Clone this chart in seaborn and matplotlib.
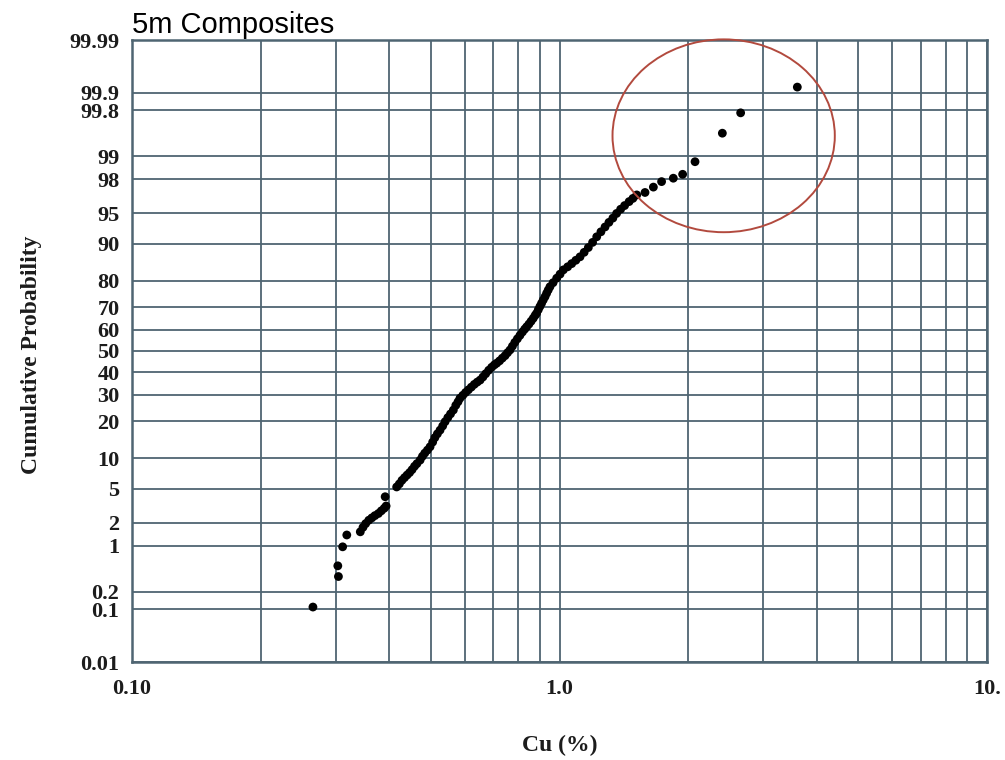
import numpy as np
import matplotlib
matplotlib.use("Agg")
import matplotlib.pyplot as plt
from matplotlib.patches import Ellipse
from matplotlib.ticker import FixedLocator, FixedFormatter, NullFormatter
import seaborn as sns
from statistics import NormalDist

# ---------------- data ----------------
cu_pct = [
    0.265, 0.304, 0.303, 0.311, 0.318,
    0.342, 0.347, 0.352, 0.358, 0.364, 0.370, 0.377, 0.383, 0.389, 0.393, 0.391,
    0.416, 0.422, 0.428, 0.434, 0.440, 0.446, 0.452, 0.458, 0.464, 0.472,
    0.478, 0.484, 0.491, 0.498, 0.505, 0.511, 0.518, 0.5255, 0.533, 0.540,
    0.548, 0.556, 0.5645, 0.572, 0.579, 0.585, 0.594, 0.603, 0.612, 0.622,
    0.632, 0.642, 0.652, 0.662, 0.672, 0.683, 0.694, 0.704, 0.713, 0.724,
    0.735, 0.746, 0.756, 0.766, 0.776, 0.786, 0.797, 0.808, 0.819, 0.829,
    0.838, 0.848, 0.858, 0.868, 0.877, 0.884, 0.892, 0.900, 0.908, 0.916,
    0.925, 0.933, 0.941, 0.950, 0.966, 0.985, 1.003, 1.021, 1.045, 1.068,
    1.092, 1.117, 1.142, 1.168, 1.195, 1.222, 1.250, 1.278, 1.305, 1.333,
    1.360, 1.390, 1.420, 1.455, 1.485, 1.516, 1.585, 1.658, 1.733, 1.846,
    1.941, 2.075, 2.404, 2.653, 3.600,
]
cum_prob = [
    0.11, 0.35, 0.51, 0.96, 1.39,
    1.53, 1.75, 1.95, 2.15, 2.30, 2.45, 2.60, 2.80, 3.00, 3.19, 4.07,
    5.2, 5.6, 6.1, 6.5, 6.9, 7.3, 7.8, 8.4, 8.9, 9.6,
    10.4, 11.1, 11.8, 12.6, 13.8, 15.0, 16.1, 17.2, 18.5, 19.9,
    21.3, 22.6, 24.0, 25.8, 27.2, 28.6, 29.8, 31.0, 32.1, 33.3,
    34.5, 35.5, 36.4, 37.8, 39.3, 40.9, 42.3, 43.4, 44.2, 45.3,
    46.6, 47.8, 49.2, 50.5, 52.3, 54.1, 55.8, 57.4, 59.0, 60.3,
    61.4, 62.6, 63.9, 65.2, 66.5, 67.4, 68.9, 70.3, 71.6, 72.9,
    74.2, 75.5, 76.7, 77.9, 79.3, 80.8, 82.1, 83.4, 84.3, 85.2,
    86.1, 87.0, 88.1, 89.2, 90.3, 91.4, 92.3, 93.1, 93.8, 94.4,
    95.0, 95.5, 95.9, 96.3, 96.6, 96.9, 97.1, 97.5, 97.86, 98.06,
    98.27, 98.82, 99.54, 99.78, 99.92,
]

y_ticks = [0.01, 0.1, 0.2, 1, 2, 5, 10, 20, 30, 40, 50, 60, 70, 80, 90,
           95, 98, 99, 99.8, 99.9, 99.99]
y_tick_labels = ["0.01", "0.1", "0.2", "1", "2", "5", "10", "20", "30", "40",
                 "50", "60", "70", "80", "90", "95", "98", "99", "99.8",
                 "99.9", "99.99"]
x_major = [0.1, 1.0, 10.0]
x_major_labels = ["0.10", "1.0", "10."]
x_minor = [0.2, 0.3, 0.4, 0.5, 0.6, 0.7, 0.8, 0.9, 2, 3, 4, 5, 6, 7, 8, 9]

title_text = "5m Composites"
x_label = "Cu (%)"
y_label = "Cumulative Probability"

# ---------------- probability scale ----------------
_nd = NormalDist()
_inv_cdf = np.vectorize(_nd.inv_cdf, otypes=[float])
_cdf = np.vectorize(_nd.cdf, otypes=[float])


def prob_fwd(p):
    p = np.clip(np.asarray(p, dtype=float) / 100.0, 1e-9, 1 - 1e-9)
    return _inv_cdf(p)


def prob_inv(z):
    return _cdf(np.asarray(z, dtype=float)) * 100.0


# ---------------- plotting ----------------
sns.set_theme(style="white")
plt.rcParams["font.family"] = ["Liberation Serif", "DejaVu Serif"]

grid_col = "#4f6572"
text_col = "#1c1c1c"

fig = plt.figure(figsize=(10.05, 7.6), dpi=100)
ax = fig.add_axes([132 / 1005, 1 - 662 / 760, 855 / 1005, 622 / 760])

sns.scatterplot(x=cu_pct, y=cum_prob, ax=ax, color="black", s=40,
                edgecolor="none", linewidth=0, zorder=3)

ax.set_xscale("log")
ax.set_yscale("function", functions=(prob_fwd, prob_inv))
ax.set_xlim(0.1, 10)
ax.set_ylim(0.01, 99.99)

ax.xaxis.set_major_locator(FixedLocator(x_major))
ax.xaxis.set_major_formatter(FixedFormatter(x_major_labels))
ax.xaxis.set_minor_locator(FixedLocator(x_minor))
ax.xaxis.set_minor_formatter(NullFormatter())
ax.yaxis.set_major_locator(FixedLocator(y_ticks))
ax.yaxis.set_major_formatter(FixedFormatter(y_tick_labels))
ax.yaxis.set_minor_locator(FixedLocator([]))

ax.grid(True, which="both", color=grid_col, linewidth=1.3)
ax.set_axisbelow(True)
for sp in ax.spines.values():
    sp.set_color(grid_col)
    sp.set_linewidth(1.8)

ax.tick_params(axis="both", which="both", length=0, labelsize=16,
               colors=text_col)
ax.tick_params(axis="y", pad=9)
ax.tick_params(axis="x", pad=12)
for lbl in ax.get_xticklabels() + ax.get_yticklabels():
    lbl.set_fontweight("bold")

ax.set_xlabel("")
ax.set_ylabel("")
ax.set_title(title_text, loc="left", pad=5, fontsize=21,
             fontfamily="Liberation Sans", color="black")

fig.text(560 / 1005, 1 - 745 / 760, x_label, ha="center", va="center",
         fontsize=17, fontweight="bold", color=text_col)
fig.text(31 / 1005, 1 - 355 / 760, y_label, ha="center", va="center",
         rotation=90, fontsize=17, fontweight="bold", color=text_col)

ell = Ellipse((0.692, 0.846), 0.26, 0.31, transform=ax.transAxes,
              fill=False, edgecolor="#b24a3e", linewidth=1.4, clip_on=False,
              zorder=4)
ax.add_patch(ell)

fig.savefig("out.png", dpi=100, facecolor="white")
